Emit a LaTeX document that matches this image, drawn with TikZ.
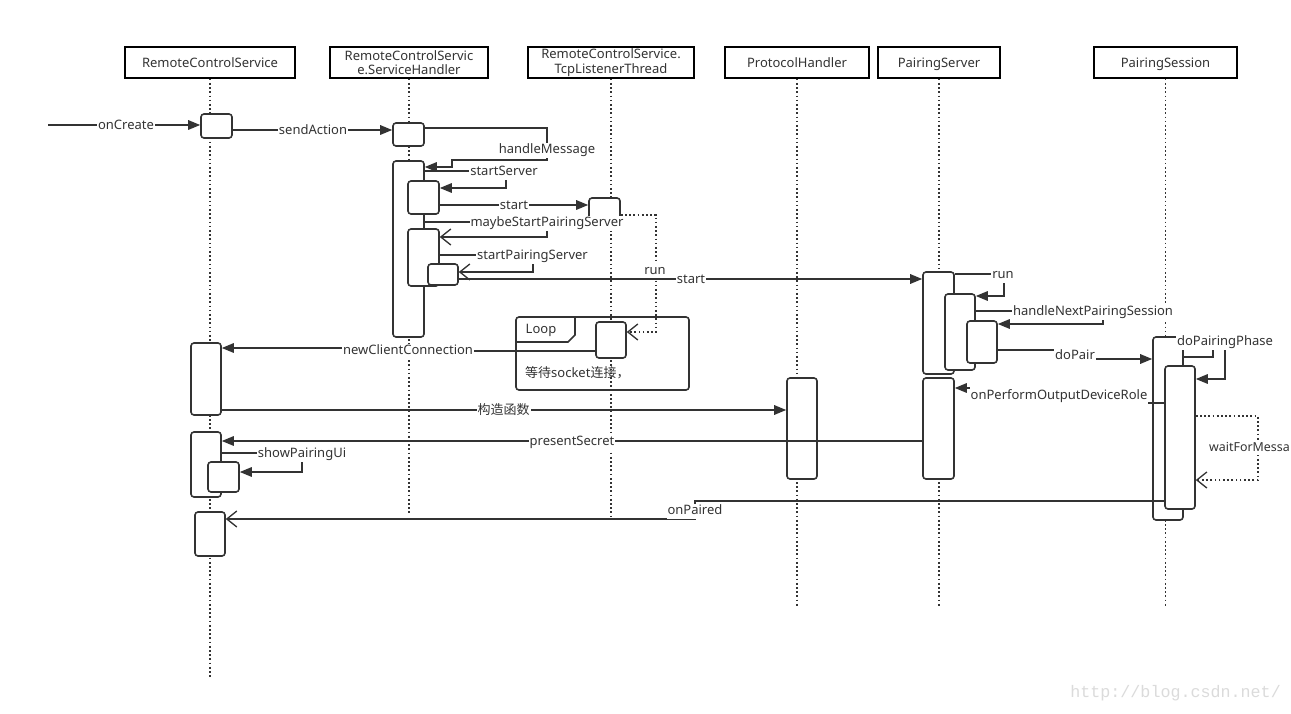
\documentclass[tikz,border=0pt]{standalone}
\usepackage{fontspec}
\setmainfont{Noto Sans}
\newfontfamily\cjk{Noto Sans CJK SC}
\newfontfamily\wmfont{Liberation Mono}
\usetikzlibrary{arrows.meta}
\definecolor{dark}{RGB}{51,51,51}
\tikzset{
  header/.style={draw=black, line width=1.6pt, fill=white, minimum height=31pt, inner sep=0pt,
    font=\fontsize{13}{14.5}\selectfont, align=center, text=dark},
  hdrone/.style={header, text height=11pt, text depth=1.6pt},
  lifeline/.style={draw=dark, line width=1.7pt, dash pattern=on 1.7pt off 2.5pt},
  act/.style={draw=dark, line width=1.6pt, fill=white, rounded corners=3pt, inner sep=0pt},
  msg/.style={draw=dark, line width=1.6pt},
  dotmsg/.style={draw=dark, line width=1.6pt, dash pattern=on 1.7pt off 2.5pt},
  filledtip/.style={-{Triangle[length=12pt,width=9.5pt]}},
  opentip/.style={-{Straight Barb[length=10pt,width=16pt,line width=1.3pt]}},
  lbl/.style={fill=white, inner sep=1pt, text=dark, text height=9.6pt, text depth=3pt,
    yshift=-1.5pt, font=\fontsize{13}{14}\selectfont},
}
\begin{document}
\begin{tikzpicture}[x=1pt,y=-1pt]
\useasboundingbox (0,0) rectangle (1291,714);
\fill[white] (0,0) rectangle (1291,714);

% headers
\node[hdrone, minimum width=170pt] (h1) at (210,62.5) {RemoteControlService};
\node[header, minimum width=158pt] (h2) at (409,62.5) {RemoteControlServic\\e.ServiceHandler};
\node[header, minimum width=166pt] (h3) at (611,62.5) {RemoteControlService.\\TcpListenerThread};
\node[hdrone, minimum width=144pt] (h4) at (797,62.5) {ProtocolHandler};
\node[hdrone, minimum width=122pt] (h5) at (939,62.5) {PairingServer};
\node[hdrone, minimum width=143pt] (h6) at (1165.5,62.5) {PairingSession};

% lifeline ends
\coordinate (e1) at (210,678);
\coordinate (e2) at (409,513);
\coordinate (e3) at (611,518);
\coordinate (e4) at (797,607);
\coordinate (e5) at (939,607);
\coordinate (e6) at (1165.5,607);
\draw[lifeline] (h1.south) -- (e1);
\draw[lifeline] (h2.south) -- (e2);
\draw[lifeline] (h3.south) -- (e3);
\draw[lifeline] (h4.south) -- (e4);
\draw[lifeline] (h5.south) -- (e5);
\draw[lifeline] (h6.south) -- (e6);

% loop frame
\draw[msg, rounded corners=3pt] (516,317) rectangle (689,390);
\draw[msg] (516,342) -- (568,342) -- (575,335) -- (575,317);
\node[text=dark, font=\fontsize{13}{14}\selectfont] (looplbl) at (541,330) {Loop};
\node[anchor=west, text=dark, font=\fontsize{13}{14}\selectfont, inner sep=0pt] (looptxt) at (525,372.5) {{\cjk 等待}socket{\cjk 连接，}};

% activation boxes
\node[act, minimum width=31pt, minimum height=24pt] (A1) at (216.5,126) {};
\node[act, minimum width=30pt, minimum height=72pt] (A2) at (206,379) {};
\node[act, minimum width=30pt, minimum height=65pt] (A3) at (206,464.5) {};
\node[act, minimum width=31pt, minimum height=30pt] (A4) at (223.5,477) {};
\node[act, minimum width=30pt, minimum height=44pt] (A5) at (210,534) {};
\node[act, minimum width=31pt, minimum height=23pt] (B1) at (408.5,134.5) {};
\node[act, minimum width=31pt, minimum height=176pt] (B2) at (408.5,249) {};
\node[act, minimum width=31pt, minimum height=33pt] (B3) at (423.5,197.5) {};
\node[act, minimum width=31pt, minimum height=57pt] (B4) at (423.5,257.5) {};
\node[act, minimum width=30pt, minimum height=21pt] (B5) at (443,274.5) {};
\node[act, minimum width=31pt, minimum height=26pt] (C1) at (604.5,211) {};
\node[act, minimum width=30pt, minimum height=36pt] (C2) at (611,340) {};
\node[act, minimum width=30pt, minimum height=101pt] (D1) at (802,428.5) {};
\node[act, minimum width=31pt, minimum height=102pt] (E1) at (938.5,323) {};
\node[act, minimum width=30pt, minimum height=76pt] (E2) at (960,332) {};
\node[act, minimum width=30pt, minimum height=42pt] (E3) at (982,342) {};
\node[act, minimum width=31pt, minimum height=101pt] (E4) at (938.5,428.5) {};
\node[act, minimum width=30pt, minimum height=183pt] (F1) at (1168,428.5) {};
\node[act, minimum width=30pt, minimum height=143pt] (F2) at (1180,437.5) {};

% messages
\coordinate (src) at (48,125);
\draw[msg, filledtip] (src) -- (A1.west |- 0,125);
\node[lbl] (m1) at (126,125) {onCreate};

\draw[msg, filledtip] (A1.east |- 0,130) -- (B1.west |- 0,130);
\node[lbl] (m2) at (313,130) {sendAction};

\draw[msg, filledtip] (B1.east |- 0,128) -- (547,128) -- (547,160) -- (452,160) -- (452,167) -- (B2.east |- 0,167);
\node[lbl] (m3) at (547,149) {handleMessage};

\draw[msg, filledtip] (B2.east |- 0,171) -- (506,171) -- (506,188) -- (B3.east |- 0,188);
\node[lbl] (m4) at (504,171) {startServer};

\draw[msg, filledtip] (B3.east |- 0,205) -- (C1.west |- 0,205);
\node[lbl] (m5) at (514,205) {start};

\draw[dotmsg, opentip] (C1.east |- 0,215) -- (656,215) -- (656,332) -- (C2.east |- 0,332);

\draw[msg, opentip] (B2.east |- 0,222) -- (547,222) -- (547,237) -- (B4.east |- 0,237);
\node[lbl] (m6) at (547,222) {maybeStartPairingServer};

\draw[msg, opentip] (B4.east |- 0,255) -- (533,255) -- (533,272) -- (B5.east |- 0,272);
\node[lbl] (m7) at (532.5,255) {startPairingServer};

\node[lbl] (m9) at (655,270) {run};

\draw[msg, filledtip] (B5.east |- 0,279) -- (E1.west |- 0,279);
\node[lbl] (m8) at (691,279) {start};

\draw[msg, filledtip] (E1.east |- 0,274) -- (1004,274) -- (1004,296) -- (E2.east |- 0,296);
\node[lbl] (m10) at (1003,274) {run};

\draw[msg, filledtip] (E2.east |- 0,311) -- (1103,311) -- (1103,324) -- (E3.east |- 0,324);
\node[lbl] (m11) at (1093,311) {handleNextPairingSession};

\draw[msg, filledtip] (E3.east |- 0,350) -- (1075,350) -- (1075,359) -- (F1.west |- 0,359);
\node[lbl] (m12) at (1075,355) {doPair};

\draw[msg, filledtip] (F1.east |- 0,357) -- (1213,357) -- (1213,341) -- (1225,341) -- (1225,379) -- (F2.east |- 0,379);
\node[lbl] (m13) at (1225,341) {doPairingPhase};

\draw[msg, filledtip] (F2.west |- 0,403) -- (1059,403) -- (1059,388) -- (E4.east |- 0,388);
\node[lbl, minimum height=17.5pt] (m14) at (1059,394.3) {onPerformOutputDeviceRole};

\draw[msg, filledtip] (C2.west |- 0,351) -- (408,351) -- (408,348) -- (A2.east |- 0,348);
\node[lbl] (m15) at (408,350) {newClientConnection};

\draw[msg, filledtip] (A2.east |- 0,410) -- (D1.west |- 0,410);
\node[lbl, font=\cjk\fontsize{13}{14}\selectfont] (m16) at (503.5,410) {构造函数};

\draw[msg, filledtip] (E4.west |- 0,441) -- (A3.east |- 0,441);
\node[lbl] (m17) at (572,441) {presentSecret};

\draw[msg, filledtip] (A3.east |- 0,453) -- (302,453) -- (302,472) -- (A4.east |- 0,472);
\node[lbl] (m18) at (302,453) {showPairingUi};

\draw[dotmsg, opentip] (F2.east |- 0,416) -- (1258,416) -- (1258,480) -- (F2.east |- 0,480);
\node[lbl, anchor=west, inner sep=0.5pt, font=\fontsize{12.4}{14}\selectfont] (m19) at (1208.5,447) {waitForMessa};

\draw[msg, opentip] (F2.west |- 0,501) -- (695,501) -- (695,519) -- (A5.east |- 0,519);
\node[lbl] (m20) at (695,510) {onPaired};

% watermark
\node[anchor=east, text=black!14, inner sep=0pt, font=\wmfont\fontsize{16.7}{17}\selectfont] (wm) at (1281,693) {http://blog.csdn.net/};
\end{tikzpicture}
\end{document}
